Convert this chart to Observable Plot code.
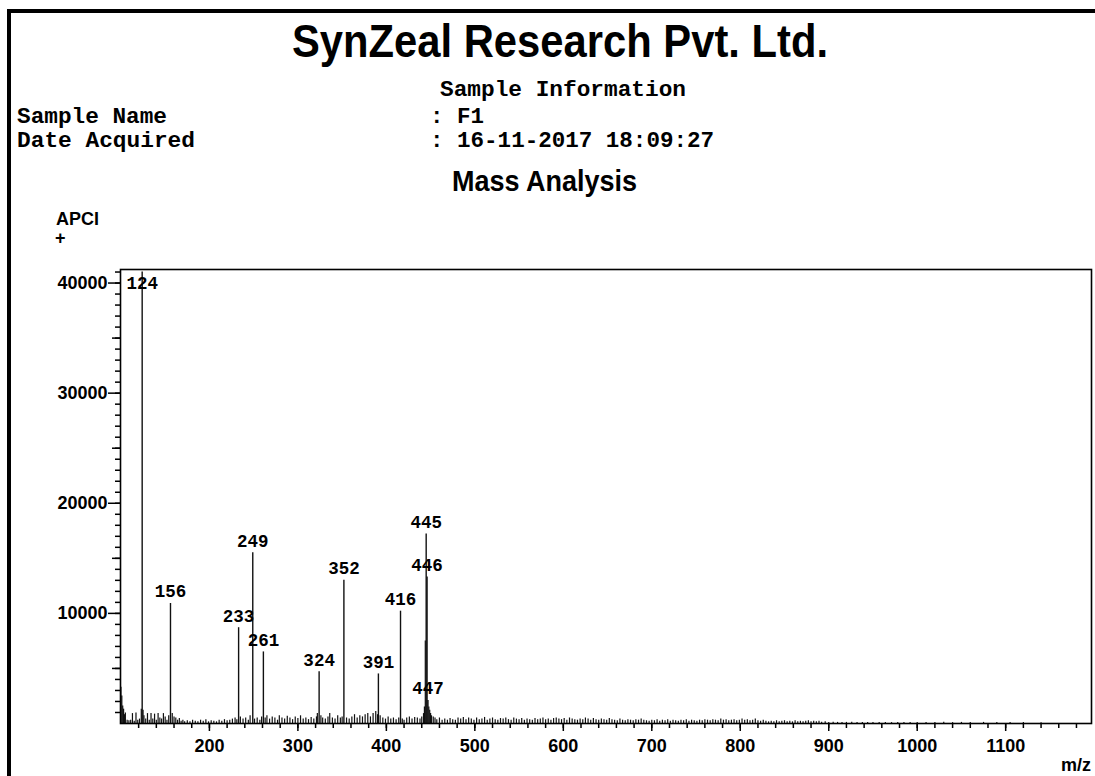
<!DOCTYPE html>
<html>
<head>
<meta charset="utf-8">
<script src="https://cdn.jsdelivr.net/npm/d3@7"></script>
<script src="https://cdn.jsdelivr.net/npm/@observablehq/plot@0.6"></script>
<style>
  html, body { margin: 0; padding: 0; background: white; }
  #page { position: relative; width: 1095px; height: 776px; overflow: hidden; background: white; }
  #page > svg { position: absolute; left: 0; top: 0; }
  #border { position: absolute; left: 7px; top: 9px; width: 1090px; height: 770px;
            border-left: 4px solid #000; border-top: 4px solid #000; box-sizing: border-box; }
</style>
</head>
<body>
<div id="page"></div>
<script>
// ---- Data ----
const titleText = "SynZeal Research Pvt. Ltd.";
const sampleName = "F1";
const dateAcquired = "16-11-2017 18:09:27";
const ionMode = "APCI";

// labelled peaks (m/z, intensity)
const peakMz  = [124,   156,   233,  249,   261,  324,  352,   391,  416,   445,   446,   447];
const peakInt = [41000, 10900, 8700, 15500, 6500, 4700, 13000, 4500, 10200, 17200, 13300, 2100];

// unlabelled background/noise sticks (m/z, intensity)
const noiseMz = [100,101,102,103,104,105,107,109,111,113,115,117,119,121,123,125,126,128,130,132,134,136,138,140,142,144,146,148,150,152,154,158,160,162,164,166,168,170,172,175,178,181,184,187,190,193,196,199,202,205,208,211,214,217,220,223,226,229,231,235,238,241,244,246,251,254,257,259,263,265,268,271,274,277,279,282,285,288,291,294,297,300,303,306,309,312,315,318,321,322,326,328,331,334,336,339,342,345,348,350,355,358,361,364,367,370,373,376,379,382,385,388,390,393,396,399,402,405,408,411,414,418,420,423,426,429,432,435,438,440,442,443,444,448,449,450,451,453,455,457,460,463,466,469,472,475,478,481,484,487,490,493,496,499,502,505,508,511,514,517,520,523,526,529,532,535,538,541,544,547,550,553,556,559,562,565,568,571,574,577,580,583,586,589,592,595,598,601,604,607,610,613,616,619,622,625,628,631,634,637,640,643,646,649,652,655,658,661,664,667,670,673,676,679,682,685,688,691,694,697,700,703,706,709,712,715,718,721,724,727,730,733,736,739,742,745,748,751,754,757,760,763,766,769,772,775,778,781,784,787,790,793,796,799,802,805,808,811,814,817,820,823,826,829,832,835,838,841,844,847,850,853,856,859,862,865,868,871,874,877,880,883,886,889,892,896,900,905,910,915,920,926,932,938,944,950,957,964,971,978,985,992,1000,1010,1020,1030,1040,1050,1060,1075,1090,1105,1120,1140,1160,1180];
const noiseInt = [3300,2500,1600,1300,800,950,300,250,300,900,200,950,300,400,1300,1200,700,400,900,300,900,400,850,300,900,500,400,900,600,300,700,900,600,500,300,450,200,300,150,250,150,300,200,150,300,200,350,150,250,200,150,300,200,350,250,300,400,500,350,600,400,500,300,700,400,500,300,600,500,700,400,600,500,300,700,500,400,650,500,350,600,450,700,400,500,350,550,400,600,900,700,500,400,600,900,500,400,700,500,600,500,400,600,800,500,700,600,800,900,600,900,1100,800,700,500,400,600,400,500,350,500,400,300,500,600,400,550,500,400,600,900,1500,7500,1500,1200,900,700,600,500,350,500,300,400,300,450,350,300,500,400,550,350,500,400,300,500,350,400,550,300,400,500,350,300,450,400,500,350,300,500,400,350,450,300,400,350,300,450,350,400,500,350,400,300,450,500,400,350,450,300,500,400,350,300,400,350,500,400,300,450,350,300,400,350,300,450,350,300,250,400,300,250,350,300,250,350,300,400,300,250,200,300,250,350,200,300,250,350,200,300,250,200,300,250,350,200,300,250,200,300,250,350,300,250,350,300,250,400,300,350,250,300,350,250,300,400,300,350,250,300,400,250,200,300,200,150,200,150,250,150,200,250,150,200,150,250,150,200,150,200,250,150,200,150,200,120,150,100,120,100,80,100,120,80,100,80,100,80,100,80,100,80,100,80,100,80,120,80,100,80,100,80,100,80,60];

// axis ticks
const xMajorTicks = [200, 300, 400, 500, 600, 700, 800, 900, 1000, 1100];
const xMinorTicks = d3.range(120, 1197, 20);
const yMajorTicks = [10000, 20000, 30000, 40000];
const yMidTicks = [5000, 15000, 25000, 35000];
const yMinorTicks = d3.range(1000, 41001, 1000);

// ---- Build tables ----
const peaks = peakMz.map((mz, i) => ({mz, intensity: peakInt[i], label: String(mz)}));
const noise = noiseMz.map((mz, i) => ({mz, intensity: noiseInt[i]}));

const sans = "'Liberation Sans', Arial, Helvetica, sans-serif";
const mono = "'Liberation Mono', 'Courier New', monospace";

const chart = Plot.plot({
  width: 1095,
  height: 776,
  marginLeft: 120,
  marginRight: 4,
  marginTop: 269,
  marginBottom: 53,
  style: {background: "transparent", fontFamily: sans, fontSize: "18px", fontWeight: "bold", color: "#000", overflow: "visible"},
  x: {domain: [99.5, 1197], label: null},
  y: {domain: [0, 41230], label: null},
  marks: [
    Plot.ruleX(noise, {x: "mz", y1: 0, y2: "intensity", stroke: "#111", strokeWidth: 1.2}),
    Plot.ruleX(peaks, {x: "mz", y1: 0, y2: "intensity", stroke: "#111", strokeWidth: 1.4}),
    Plot.text(peaks, {x: "mz", y: d => Math.min(d.intensity, 38950), text: "label",
      lineAnchor: "bottom", dy: -6, fontFamily: mono, fontSize: 17.5, fontWeight: "bold", fill: "#000"}),
    Plot.axisY({ticks: yMinorTicks, tickSize: 5, tickFormat: () => "", label: null, strokeWidth: 1.5}),
    Plot.axisY({ticks: yMidTicks, tickSize: 8, tickFormat: () => "", label: null, strokeWidth: 1.5}),
    Plot.axisY({ticks: yMajorTicks, tickSize: 12, tickPadding: 1, tickFormat: d => String(d), label: null,
      fontSize: 18, fontWeight: "bold", strokeWidth: 1.5}),
    Plot.axisX({ticks: xMinorTicks, tickSize: 5, tickFormat: () => "", label: null, strokeWidth: 1.5}),
    Plot.axisX({ticks: xMajorTicks, tickSize: 8, tickPadding: 8, tickFormat: d => String(d), label: null,
      fontSize: 18, fontWeight: "bold", strokeWidth: 1.5}),
    Plot.frame({stroke: "#000", strokeWidth: 1.6})
  ]
});

const page = document.getElementById("page");
page.appendChild(chart);

// ---- Header texts (real text in an overlay SVG) ----
const hdr = d3.select(page).append("svg")
  .attr("width", 1095).attr("height", 776)
  .style("pointer-events", "none");

function t(x, y, str, family, size, opts = {}) {
  const el = hdr.append("text")
    .attr("x", x).attr("y", y)
    .attr("font-family", family).attr("font-size", size)
    .attr("font-weight", "bold").attr("fill", "#000")
    .text(str);
  if (opts.len) el.attr("textLength", opts.len).attr("lengthAdjust", "spacingAndGlyphs");
  return el;
}
t(292, 57, titleText, sans, 46, {len: 536});
t(440, 96, "Sample Information", mono, 22.5, {len: 246});
t(17, 123, "Sample Name", mono, 22.5, {len: 150});
t(430, 123, ": " + sampleName, mono, 22.5);
t(17, 147, "Date Acquired", mono, 22.5, {len: 178});
t(430, 147, ": " + dateAcquired, mono, 22.5, {len: 284});
t(452, 191, "Mass Analysis", sans, 29, {len: 185});
t(56, 225, ionMode, sans, 18, {len: 43});
t(55, 244, "+", sans, 18);
t(1061, 771, "m/z", sans, 18);

const border = document.createElement("div");
border.id = "border";
page.appendChild(border);
</script>
</body>
</html>
